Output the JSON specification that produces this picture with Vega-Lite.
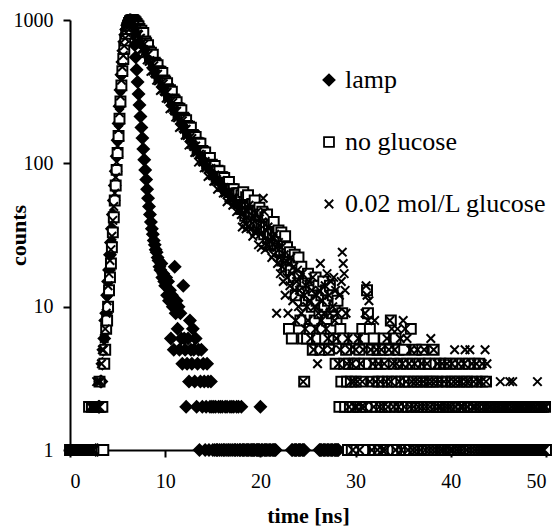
{
"$schema":"https://vega.github.io/schema/vega-lite/v6.json",
"width":476,"height":430,
"autosize":"none",
"padding":{"left":70,"top":20,"right":14,"bottom":82},
"background":"white",
"config":{"font":"Liberation Serif, Times New Roman, Times, serif","view":{"stroke":null},
"axis":{"domainColor":"black","domainWidth":2,"tickColor":"black","tickWidth":2,"tickSize":7,"labelColor":"black","labelFont":"Liberation Serif, Times New Roman, Times, serif","labelFontSize":20,"titleFont":"Liberation Serif, Times New Roman, Times, serif","titleFontSize":22,"titleFontWeight":"bold","titleColor":"black","grid":false},
"legend":{"labelFont":"Liberation Serif, Times New Roman, Times, serif"}},
"data":{"values":[
{"t":0.0,"a":0,"b":1,"c":1},{"t":0.1,"a":0,"b":0,"c":1},{"t":0.2,"a":0,"b":1,"c":0},{"t":0.3,"a":0,"b":1,"c":1},{"t":0.4,"a":0,"b":0,"c":1},
{"t":0.5,"a":0,"b":1,"c":1},{"t":0.6,"a":0,"b":1,"c":0},{"t":0.7,"a":0,"b":0,"c":1},{"t":0.8,"a":0,"b":1,"c":1},{"t":0.9,"a":0,"b":1,"c":0},
{"t":1.0,"a":0,"b":0,"c":1},{"t":1.1,"a":0,"b":1,"c":1},{"t":1.2,"a":0,"b":1,"c":0},{"t":1.3,"a":0,"b":0,"c":1},{"t":1.4,"a":0,"b":1,"c":0},
{"t":1.5,"a":0,"b":1,"c":1},{"t":1.6,"a":0,"b":0,"c":1},{"t":1.7,"a":0,"b":1,"c":0},{"t":1.8,"a":0,"b":1,"c":1},{"t":1.9,"a":0,"b":0,"c":1},
{"t":2.0,"a":0,"b":2,"c":1},{"t":2.1,"a":0,"b":1,"c":1},{"t":2.2,"a":0,"b":1,"c":2},{"t":2.3,"a":0,"b":2,"c":1},{"t":2.4,"a":0,"b":1,"c":2},
{"t":2.5,"a":0,"b":1,"c":1},{"t":2.6,"a":0,"b":2,"c":2},{"t":2.7,"a":1,"b":1,"c":2},{"t":2.8,"a":0,"b":2,"c":3},{"t":2.9,"a":1,"b":1,"c":2},
{"t":3.0,"a":2,"b":2,"c":3},{"t":3.1,"a":2,"b":3,"c":2},{"t":3.2,"a":3,"b":2,"c":3},{"t":3.3,"a":3,"b":1,"c":4},{"t":3.4,"a":4,"b":2,"c":5},
{"t":3.5,"a":5,"b":1,"c":5},{"t":3.6,"a":6,"b":4,"c":6},{"t":3.7,"a":8,"b":5,"c":7},{"t":3.8,"a":9,"b":7,"c":9},{"t":3.9,"a":12,"b":8,"c":11},
{"t":4.0,"a":15,"b":10,"c":14},{"t":4.1,"a":18,"b":13,"c":17},{"t":4.2,"a":23,"b":16,"c":21},{"t":4.3,"a":28,"b":20,"c":25},{"t":4.4,"a":35,"b":26,"c":31},
{"t":4.5,"a":44,"b":33,"c":40},{"t":4.6,"a":55,"b":42,"c":50},{"t":4.7,"a":70,"b":55,"c":62},{"t":4.8,"a":88,"b":70,"c":80},{"t":4.9,"a":112,"b":90,"c":102},
{"t":5.0,"a":145,"b":118,"c":132},{"t":5.1,"a":190,"b":155,"c":172},{"t":5.2,"a":250,"b":205,"c":225},{"t":5.3,"a":325,"b":270,"c":295},{"t":5.4,"a":415,"b":350,"c":380},
{"t":5.5,"a":510,"b":440,"c":470},{"t":5.6,"a":610,"b":535,"c":565},{"t":5.7,"a":705,"b":630,"c":660},{"t":5.8,"a":790,"b":720,"c":745},{"t":5.9,"a":860,"b":800,"c":820},
{"t":6.0,"a":920,"b":865,"c":880},{"t":6.1,"a":962,"b":915,"c":930},{"t":6.2,"a":988,"b":955,"c":965},{"t":6.3,"a":1000,"b":982,"c":990},{"t":6.4,"a":995,"b":993,"c":1000},
{"t":6.5,"a":960,"b":996,"c":993},{"t":6.6,"a":890,"b":1000,"c":975},{"t":6.7,"a":790,"b":990,"c":950},{"t":6.8,"a":670,"b":975,"c":905},{"t":6.9,"a":550,"b":960,"c":880},
{"t":7.0,"a":450,"b":940,"c":845},{"t":7.1,"a":370,"b":915,"c":800},{"t":7.2,"a":305,"b":900,"c":790},{"t":7.3,"a":255,"b":865,"c":739},{"t":7.4,"a":212,"b":786,"c":745},
{"t":7.5,"a":178,"b":842,"c":624},{"t":7.6,"a":150,"b":765,"c":698},{"t":7.7,"a":126,"b":812,"c":624},{"t":7.8,"a":106,"b":693,"c":679},{"t":7.9,"a":90,"b":709,"c":601},
{"t":8.0,"a":77,"b":689,"c":585},{"t":8.1,"a":66,"b":627,"c":527},{"t":8.2,"a":57,"b":666,"c":575},{"t":8.3,"a":50,"b":603,"c":515},{"t":8.4,"a":44,"b":548,"c":520},
{"t":8.5,"a":39,"b":591,"c":438},{"t":8.6,"a":35,"b":541,"c":493},{"t":8.7,"a":32,"b":573,"c":440},{"t":8.8,"a":29,"b":490,"c":480},{"t":8.9,"a":27,"b":504,"c":427},
{"t":9.0,"a":25,"b":493,"c":419},{"t":9.1,"a":24,"b":452,"c":380},{"t":9.2,"a":22,"b":484,"c":418},{"t":9.3,"a":21,"b":440,"c":376},{"t":9.4,"a":19,"b":403,"c":382},
{"t":9.5,"a":18,"b":435,"c":322},{"t":9.6,"a":20,"b":400,"c":365},{"t":9.7,"a":16,"b":427,"c":328},{"t":9.8,"a":17,"b":366,"c":359},{"t":9.9,"a":15,"b":378,"c":320},
{"t":10.0,"a":14,"b":371,"c":315},{"t":10.1,"a":16,"b":339,"c":285},{"t":10.2,"a":12,"b":362,"c":313},{"t":10.3,"a":15,"b":329,"c":281},{"t":10.4,"a":11,"b":300,"c":284},
{"t":10.5,"a":13,"b":324,"c":240},{"t":10.6,"a":6,"b":297,"c":271},{"t":10.7,"a":12,"b":316,"c":243},{"t":10.8,"a":10,"b":271,"c":266},{"t":10.9,"a":5,"b":279,"c":237},
{"t":11.0,"a":19,"b":273,"c":232},{"t":11.1,"a":9,"b":250,"c":210},{"t":11.2,"a":11,"b":267,"c":231},{"t":11.3,"a":7,"b":243,"c":208},{"t":11.4,"a":10,"b":222,"c":211},
{"t":11.5,"a":5,"b":240,"c":178},{"t":11.6,"a":9,"b":220,"c":201},{"t":11.7,"a":6,"b":235,"c":181},{"t":11.8,"a":4,"b":202,"c":198},{"t":11.9,"a":14,"b":208,"c":176},
{"t":12.0,"a":6,"b":204,"c":173},{"t":12.1,"a":5,"b":187,"c":157},{"t":12.2,"a":2,"b":200,"c":173},{"t":12.3,"a":4,"b":182,"c":156},{"t":12.4,"a":6,"b":167,"c":158},
{"t":12.5,"a":3,"b":180,"c":134},{"t":12.6,"a":8,"b":166,"c":152},{"t":12.7,"a":5,"b":177,"c":136},{"t":12.8,"a":4,"b":152,"c":149},{"t":12.9,"a":7,"b":158,"c":134},
{"t":13.0,"a":5,"b":155,"c":131},{"t":13.1,"a":3,"b":142,"c":119},{"t":13.2,"a":6,"b":153,"c":132},{"t":13.3,"a":2,"b":139,"c":119},{"t":13.4,"a":4,"b":127,"c":121},
{"t":13.5,"a":5,"b":138,"c":102},{"t":13.6,"a":1,"b":128,"c":116},{"t":13.7,"a":3,"b":137,"c":105},{"t":13.8,"a":5,"b":118,"c":115},{"t":13.9,"a":2,"b":122,"c":103},
{"t":14.0,"a":4,"b":120,"c":102},{"t":14.1,"a":3,"b":111,"c":93},{"t":14.2,"a":1,"b":119,"c":103},{"t":14.3,"a":2,"b":109,"c":93},{"t":14.4,"a":4,"b":100,"c":95},
{"t":14.5,"a":3,"b":109,"c":81},{"t":14.6,"a":1,"b":101,"c":92},{"t":14.7,"a":2,"b":109,"c":83},{"t":14.8,"a":3,"b":94,"c":92},{"t":14.9,"a":2,"b":98,"c":83},
{"t":15.0,"a":1,"b":96,"c":82},{"t":15.1,"a":2,"b":89,"c":75},{"t":15.2,"a":1,"b":96,"c":83},{"t":15.3,"a":2,"b":88,"c":75},{"t":15.4,"a":1,"b":81,"c":77},
{"t":15.5,"a":1,"b":89,"c":66},{"t":15.6,"a":2,"b":83,"c":75},{"t":15.7,"a":1,"b":88,"c":68},{"t":15.8,"a":2,"b":77,"c":76},{"t":15.9,"a":1,"b":80,"c":68},
{"t":16.0,"a":2,"b":80,"c":68},{"t":16.1,"a":1,"b":74,"c":62},{"t":16.2,"a":1,"b":79,"c":68},{"t":16.3,"a":2,"b":73,"c":62},{"t":16.4,"a":1,"b":67,"c":63},
{"t":16.5,"a":2,"b":73,"c":54},{"t":16.6,"a":1,"b":68,"c":62},{"t":16.7,"a":1,"b":74,"c":57},{"t":16.8,"a":2,"b":63,"c":62},{"t":16.9,"a":1,"b":66,"c":56},
{"t":17.0,"a":2,"b":66,"c":56},{"t":17.1,"a":1,"b":61,"c":51},{"t":17.2,"a":2,"b":66,"c":57},{"t":17.3,"a":1,"b":61,"c":52},{"t":17.4,"a":1,"b":56,"c":53},
{"t":17.5,"a":2,"b":62,"c":46},{"t":17.6,"a":1,"b":57,"c":52},{"t":17.7,"a":2,"b":62,"c":47},{"t":17.8,"a":1,"b":53,"c":52},{"t":17.9,"a":1,"b":56,"c":47},
{"t":18.0,"a":2,"b":60,"c":44},{"t":18.1,"a":1,"b":48,"c":36},{"t":18.2,"a":1,"b":63,"c":53},{"t":18.3,"a":1,"b":50,"c":40},{"t":18.4,"a":0,"b":43,"c":47},
{"t":18.5,"a":1,"b":58,"c":35},{"t":18.6,"a":1,"b":49,"c":47},{"t":18.7,"a":1,"b":60,"c":36},{"t":18.8,"a":1,"b":42,"c":51},{"t":18.9,"a":0,"b":50,"c":40},
{"t":19.0,"a":1,"b":44,"c":35},{"t":19.1,"a":1,"b":38,"c":41},{"t":19.2,"a":1,"b":52,"c":31},{"t":19.3,"a":1,"b":44,"c":42},{"t":19.4,"a":1,"b":55,"c":33},
{"t":19.5,"a":0,"b":38,"c":45},{"t":19.6,"a":1,"b":44,"c":35},{"t":19.7,"a":1,"b":46,"c":34},{"t":19.8,"a":1,"b":37,"c":27},{"t":19.9,"a":1,"b":49,"c":41},
{"t":20.0,"a":2,"b":44,"c":32},{"t":20.1,"a":1,"b":35,"c":26},{"t":20.2,"a":1,"b":46,"c":39},{"t":20.3,"a":0,"b":36,"c":57},{"t":20.4,"a":1,"b":32,"c":46},
{"t":20.5,"a":1,"b":42,"c":25},{"t":20.6,"a":1,"b":36,"c":34},{"t":20.7,"a":1,"b":44,"c":27},{"t":20.8,"a":0,"b":30,"c":36},{"t":20.9,"a":1,"b":36,"c":29},
{"t":21.0,"a":1,"b":32,"c":26},{"t":21.1,"a":1,"b":27,"c":29},{"t":21.2,"a":0,"b":37,"c":22},{"t":21.3,"a":1,"b":32,"c":30},{"t":21.4,"a":1,"b":39,"c":23},
{"t":21.5,"a":1,"b":27,"c":32},{"t":21.6,"a":1,"b":32,"c":26},{"t":21.7,"a":0,"b":32,"c":9},{"t":21.8,"a":0,"b":27,"c":20},{"t":21.9,"a":0,"b":34,"c":28},
{"t":22.0,"a":0,"b":30,"c":22},{"t":22.1,"a":0,"b":24,"c":17},{"t":22.2,"a":0,"b":33,"c":26},{"t":22.3,"a":0,"b":21,"c":19},{"t":22.4,"a":0,"b":28,"c":15},
{"t":22.5,"a":0,"b":25,"c":23},{"t":22.6,"a":0,"b":31,"c":12},{"t":22.7,"a":0,"b":19,"c":21},{"t":22.8,"a":0,"b":26,"c":16},{"t":22.9,"a":0,"b":22,"c":9},
{"t":23.0,"a":0,"b":7,"c":20},{"t":23.1,"a":0,"b":24,"c":14},{"t":23.2,"a":0,"b":18,"c":22},{"t":23.3,"a":1,"b":6,"c":17},{"t":23.4,"a":1,"b":21,"c":11},
{"t":23.5,"a":0,"b":16,"c":19},{"t":23.6,"a":1,"b":23,"c":13},{"t":23.7,"a":1,"b":12,"c":8},{"t":23.8,"a":1,"b":20,"c":15},{"t":23.9,"a":0,"b":14,"c":18},
{"t":24.0,"a":1,"b":22,"c":10},{"t":24.1,"a":1,"b":17,"c":13},{"t":24.2,"a":1,"b":8,"c":16},{"t":24.3,"a":0,"b":19,"c":9},{"t":24.4,"a":1,"b":13,"c":17},
{"t":24.5,"a":1,"b":6,"c":3},{"t":24.6,"a":1,"b":3,"c":12},{"t":24.7,"a":0,"b":15,"c":7},{"t":24.8,"a":0,"b":11,"c":14},{"t":24.9,"a":0,"b":6,"c":10},
{"t":25.0,"a":0,"b":17,"c":8},{"t":25.1,"a":0,"b":12,"c":15},{"t":25.2,"a":0,"b":7,"c":11},{"t":25.3,"a":0,"b":14,"c":6},{"t":25.4,"a":0,"b":10,"c":13},
{"t":25.5,"a":0,"b":5,"c":16},{"t":25.6,"a":0,"b":13,"c":5},{"t":25.7,"a":0,"b":8,"c":10},{"t":25.8,"a":0,"b":16,"c":7},{"t":25.9,"a":0,"b":11,"c":12},
{"t":26.0,"a":0,"b":6,"c":4},{"t":26.1,"a":0,"b":14,"c":9},{"t":26.2,"a":1,"b":9,"c":13},{"t":26.3,"a":1,"b":5,"c":20},{"t":26.4,"a":1,"b":12,"c":8},
{"t":26.5,"a":0,"b":7,"c":11},{"t":26.6,"a":1,"b":15,"c":5},{"t":26.7,"a":1,"b":10,"c":9},{"t":26.8,"a":1,"b":6,"c":14},{"t":26.9,"a":0,"b":13,"c":7},
{"t":27.0,"a":1,"b":8,"c":17},{"t":27.1,"a":1,"b":11,"c":6},{"t":27.2,"a":1,"b":5,"c":12},{"t":27.3,"a":0,"b":14,"c":9},{"t":27.4,"a":1,"b":7,"c":15},
{"t":27.5,"a":1,"b":9,"c":5},{"t":27.6,"a":1,"b":12,"c":10},{"t":27.7,"a":0,"b":6,"c":16},{"t":27.8,"a":1,"b":10,"c":8},{"t":27.9,"a":1,"b":4,"c":13},
{"t":28.0,"a":1,"b":8,"c":6},{"t":28.1,"a":1,"b":11,"c":9},{"t":28.2,"a":1,"b":6,"c":4},{"t":28.3,"a":0,"b":2,"c":12},{"t":28.4,"a":0,"b":7,"c":5},
{"t":28.5,"a":0,"b":3,"c":15},{"t":28.6,"a":0,"b":9,"c":24},{"t":28.7,"a":0,"b":6,"c":20},{"t":28.8,"a":0,"b":4,"c":17},{"t":28.9,"a":0,"b":2,"c":13},
{"t":29.0,"a":0,"b":5,"c":9},{"t":29.1,"a":0,"b":3,"c":4},{"t":29.2,"a":0,"b":1,"c":6},{"t":29.3,"a":0,"b":4,"c":2},{"t":29.4,"a":0,"b":2,"c":5},
{"t":29.5,"a":0,"b":3,"c":3},{"t":29.6,"a":0,"b":1,"c":4},{"t":29.7,"a":0,"b":2,"c":1},{"t":29.8,"a":0,"b":6,"c":3},{"t":29.9,"a":0,"b":4,"c":2},
{"t":30.0,"a":0,"b":3,"c":5},{"t":30.1,"a":0,"b":1,"c":2},{"t":30.2,"a":0,"b":4,"c":3},{"t":30.3,"a":0,"b":2,"c":6},{"t":30.4,"a":0,"b":5,"c":1},
{"t":30.5,"a":0,"b":2,"c":4},{"t":30.6,"a":0,"b":3,"c":2},{"t":30.7,"a":0,"b":7,"c":3},{"t":30.8,"a":0,"b":1,"c":5},{"t":30.9,"a":0,"b":4,"c":2},
{"t":31.0,"a":0,"b":6,"c":9},{"t":31.1,"a":0,"b":2,"c":14},{"t":31.2,"a":0,"b":13,"c":12},{"t":31.3,"a":0,"b":9,"c":8},{"t":31.4,"a":0,"b":4,"c":11},
{"t":31.5,"a":0,"b":7,"c":3},{"t":31.6,"a":0,"b":2,"c":5},{"t":31.7,"a":0,"b":5,"c":1},{"t":31.8,"a":0,"b":3,"c":4},{"t":31.9,"a":0,"b":6,"c":2},
{"t":32.0,"a":0,"b":1,"c":8},{"t":32.1,"a":0,"b":4,"c":3},{"t":32.2,"a":0,"b":2,"c":5},{"t":32.3,"a":0,"b":5,"c":1},{"t":32.4,"a":0,"b":3,"c":4},
{"t":32.5,"a":0,"b":1,"c":2},{"t":32.6,"a":0,"b":4,"c":3},{"t":32.7,"a":0,"b":2,"c":5},{"t":32.8,"a":0,"b":3,"c":1},{"t":32.9,"a":0,"b":5,"c":2},
{"t":33.0,"a":0,"b":6,"c":4},{"t":33.1,"a":0,"b":2,"c":1},{"t":33.2,"a":0,"b":4,"c":3},{"t":33.3,"a":0,"b":1,"c":6},{"t":33.4,"a":0,"b":3,"c":2},
{"t":33.5,"a":0,"b":2,"c":5},{"t":33.6,"a":0,"b":5,"c":8},{"t":33.7,"a":0,"b":8,"c":3},{"t":33.8,"a":0,"b":3,"c":7},{"t":33.9,"a":0,"b":1,"c":4},
{"t":34.0,"a":0,"b":4,"c":2},{"t":34.1,"a":0,"b":2,"c":5},{"t":34.2,"a":0,"b":6,"c":1},{"t":34.3,"a":0,"b":3,"c":4},{"t":34.4,"a":0,"b":1,"c":7},
{"t":34.5,"a":0,"b":5,"c":2},{"t":34.6,"a":0,"b":2,"c":3},{"t":34.7,"a":0,"b":4,"c":6},{"t":34.8,"a":0,"b":3,"c":1},{"t":34.9,"a":0,"b":1,"c":4},
{"t":35.0,"a":0,"b":2,"c":8},{"t":35.1,"a":0,"b":5,"c":2},{"t":35.2,"a":0,"b":3,"c":7},{"t":35.3,"a":0,"b":1,"c":3},{"t":35.4,"a":0,"b":4,"c":6},
{"t":35.5,"a":0,"b":2,"c":1},{"t":35.6,"a":0,"b":3,"c":4},{"t":35.7,"a":0,"b":1,"c":2},{"t":35.8,"a":0,"b":7,"c":5},{"t":35.9,"a":0,"b":2,"c":3},
{"t":36.0,"a":0,"b":4,"c":1},{"t":36.1,"a":0,"b":3,"c":2},{"t":36.2,"a":0,"b":1,"c":4},{"t":36.3,"a":0,"b":5,"c":3},{"t":36.4,"a":0,"b":2,"c":1},
{"t":36.5,"a":0,"b":3,"c":5},{"t":36.6,"a":0,"b":1,"c":2},{"t":36.7,"a":0,"b":4,"c":3},{"t":36.8,"a":0,"b":2,"c":1},{"t":36.9,"a":0,"b":3,"c":4},
{"t":37.0,"a":0,"b":5,"c":2},{"t":37.1,"a":0,"b":1,"c":3},{"t":37.2,"a":0,"b":2,"c":5},{"t":37.3,"a":0,"b":4,"c":1},{"t":37.4,"a":0,"b":3,"c":2},
{"t":37.5,"a":0,"b":1,"c":4},{"t":37.6,"a":0,"b":2,"c":3},{"t":37.7,"a":0,"b":4,"c":1},{"t":37.8,"a":0,"b":3,"c":2},{"t":37.9,"a":0,"b":1,"c":6},
{"t":38.0,"a":0,"b":2,"c":3},{"t":38.1,"a":0,"b":3,"c":1},{"t":38.2,"a":0,"b":5,"c":5},{"t":38.3,"a":0,"b":1,"c":2},{"t":38.4,"a":0,"b":4,"c":3},
{"t":38.5,"a":0,"b":2,"c":1},{"t":38.6,"a":0,"b":3,"c":4},{"t":38.7,"a":0,"b":1,"c":2},{"t":38.8,"a":0,"b":2,"c":3},{"t":38.9,"a":0,"b":4,"c":1},
{"t":39.0,"a":0,"b":1,"c":2},{"t":39.1,"a":0,"b":3,"c":4},{"t":39.2,"a":0,"b":2,"c":1},{"t":39.3,"a":0,"b":1,"c":3},{"t":39.4,"a":0,"b":4,"c":2},
{"t":39.5,"a":0,"b":2,"c":1},{"t":39.6,"a":0,"b":3,"c":4},{"t":39.7,"a":0,"b":1,"c":2},{"t":39.8,"a":0,"b":2,"c":3},{"t":39.9,"a":0,"b":4,"c":1},
{"t":40.0,"a":0,"b":1,"c":2},{"t":40.1,"a":0,"b":3,"c":4},{"t":40.2,"a":0,"b":2,"c":1},{"t":40.3,"a":0,"b":1,"c":3},{"t":40.4,"a":0,"b":3,"c":5},
{"t":40.5,"a":0,"b":2,"c":2},{"t":40.6,"a":0,"b":4,"c":1},{"t":40.7,"a":0,"b":1,"c":3},{"t":40.8,"a":0,"b":2,"c":4},{"t":40.9,"a":0,"b":3,"c":1},
{"t":41.0,"a":0,"b":1,"c":2},{"t":41.1,"a":0,"b":2,"c":3},{"t":41.2,"a":0,"b":4,"c":1},{"t":41.3,"a":0,"b":1,"c":2},{"t":41.4,"a":0,"b":3,"c":4},
{"t":41.5,"a":0,"b":2,"c":5},{"t":41.6,"a":0,"b":1,"c":3},{"t":41.7,"a":0,"b":3,"c":1},{"t":41.8,"a":0,"b":2,"c":2},{"t":41.9,"a":0,"b":4,"c":3},
{"t":42.0,"a":0,"b":1,"c":5},{"t":42.1,"a":0,"b":2,"c":1},{"t":42.2,"a":0,"b":3,"c":4},{"t":42.3,"a":0,"b":1,"c":2},{"t":42.4,"a":0,"b":2,"c":3},
{"t":42.5,"a":0,"b":4,"c":1},{"t":42.6,"a":0,"b":1,"c":2},{"t":42.7,"a":0,"b":3,"c":4},{"t":42.8,"a":0,"b":2,"c":1},{"t":42.9,"a":0,"b":1,"c":3},
{"t":43.0,"a":0,"b":4,"c":2},{"t":43.1,"a":0,"b":2,"c":1},{"t":43.2,"a":0,"b":1,"c":3},{"t":43.3,"a":0,"b":3,"c":4},{"t":43.4,"a":0,"b":2,"c":1},
{"t":43.5,"a":0,"b":1,"c":2},{"t":43.6,"a":0,"b":2,"c":5},{"t":43.7,"a":0,"b":3,"c":3},{"t":43.8,"a":0,"b":1,"c":4},{"t":43.9,"a":0,"b":2,"c":1},
{"t":44.0,"a":0,"b":1,"c":2},{"t":44.1,"a":0,"b":2,"c":1},{"t":44.2,"a":0,"b":1,"c":2},{"t":44.3,"a":0,"b":2,"c":1},{"t":44.4,"a":0,"b":1,"c":1},
{"t":44.5,"a":0,"b":2,"c":2},{"t":44.6,"a":0,"b":1,"c":1},{"t":44.7,"a":0,"b":2,"c":1},{"t":44.8,"a":0,"b":1,"c":2},{"t":44.9,"a":0,"b":1,"c":1},
{"t":45.0,"a":0,"b":2,"c":1},{"t":45.1,"a":0,"b":1,"c":2},{"t":45.2,"a":0,"b":2,"c":3},{"t":45.3,"a":0,"b":1,"c":1},{"t":45.4,"a":0,"b":2,"c":2},
{"t":45.5,"a":0,"b":1,"c":1},{"t":45.6,"a":0,"b":2,"c":2},{"t":45.7,"a":0,"b":1,"c":1},{"t":45.8,"a":0,"b":1,"c":2},{"t":45.9,"a":0,"b":2,"c":1},
{"t":46.0,"a":0,"b":1,"c":2},{"t":46.1,"a":0,"b":2,"c":1},{"t":46.2,"a":0,"b":1,"c":3},{"t":46.3,"a":0,"b":2,"c":1},{"t":46.4,"a":0,"b":1,"c":2},
{"t":46.5,"a":0,"b":2,"c":3},{"t":46.6,"a":0,"b":1,"c":1},{"t":46.7,"a":0,"b":1,"c":2},{"t":46.8,"a":0,"b":2,"c":1},{"t":46.9,"a":0,"b":1,"c":1},
{"t":47.0,"a":0,"b":2,"c":2},{"t":47.1,"a":0,"b":1,"c":1},{"t":47.2,"a":0,"b":2,"c":2},{"t":47.3,"a":0,"b":1,"c":1},{"t":47.4,"a":0,"b":1,"c":2},
{"t":47.5,"a":0,"b":2,"c":1},{"t":47.6,"a":0,"b":1,"c":2},{"t":47.7,"a":0,"b":2,"c":1},{"t":47.8,"a":0,"b":1,"c":1},{"t":47.9,"a":0,"b":2,"c":2},
{"t":48.0,"a":0,"b":1,"c":1},{"t":48.1,"a":0,"b":2,"c":2},{"t":48.2,"a":0,"b":1,"c":1},{"t":48.3,"a":0,"b":1,"c":2},{"t":48.4,"a":0,"b":2,"c":1},
{"t":48.5,"a":0,"b":1,"c":2},{"t":48.6,"a":0,"b":2,"c":1},{"t":48.7,"a":0,"b":1,"c":1},{"t":48.8,"a":0,"b":2,"c":2},{"t":48.9,"a":0,"b":1,"c":1},
{"t":49.0,"a":0,"b":2,"c":1},{"t":49.1,"a":0,"b":1,"c":3},{"t":49.2,"a":0,"b":1,"c":1},{"t":49.3,"a":0,"b":2,"c":2},{"t":49.4,"a":0,"b":1,"c":1},
{"t":49.5,"a":0,"b":2,"c":2},{"t":49.6,"a":0,"b":1,"c":1},{"t":49.7,"a":0,"b":2,"c":2},{"t":49.8,"a":0,"b":1,"c":1},{"t":49.9,"a":0,"b":2,"c":2},
{"t":50.0,"a":0,"b":1,"c":2}
]},
"transform":[{"fold":["a","b","c"],"as":["s","v"]},{"filter":"datum.v > 0"}],
"mark":{"type":"point","stroke":"black","strokeWidth":2,"opacity":1},
"encoding":{
"x":{"field":"t","type":"quantitative","scale":{"domain":[0,50],"nice":false},
"axis":{"values":[0,10,20,30,40,50],"title":"time [ns]","labelPadding":14,"titleY":65,"titleBaseline":"middle"}},
"y":{"field":"v","type":"quantitative","scale":{"type":"log","domain":[1,1000],"nice":false},
"axis":{"values":[1,10,100,1000],"format":"d","title":"counts","labelPadding":10,"titleX":-52,"titleY":215,"titleBaseline":"middle","titleAngle":-90}},
"shape":{"field":"s","type":"nominal","scale":{"domain":["a","b","c"],"range":["diamond","square","M-1,-1L1,1M-1,1L1,-1"]},
"legend":{"orient":"none","legendX":246,"legendY":47,"title":null,"labelExpr":"datum.value=='a'?'lamp':datum.value=='b'?'no glucose':'0.02 mol/L glucose'","labelFontSize":26,"labelColor":"black","labelLimit":0,"rowPadding":36,"labelOffset":3,"symbolStrokeColor":"black","symbolStrokeWidth":1.8,"symbolOpacity":1,
"encode":{"symbols":{"update":{"stroke":{"value":"black"},"strokeWidth":{"value":1.8},"opacity":{"value":1},"size":{"value":55}}}}}},
"fill":{"field":"s","type":"nominal","scale":{"domain":["a","b","c"],"range":["black","white","white"]},
"legend":{"orient":"none","legendX":246,"legendY":47,"title":null,"labelExpr":"datum.value=='a'?'lamp':datum.value=='b'?'no glucose':'0.02 mol/L glucose'","labelFontSize":26,"labelColor":"black","labelLimit":0,"rowPadding":36,"labelOffset":3,"symbolStrokeColor":"black","symbolStrokeWidth":1.8,"symbolOpacity":1,
"encode":{"symbols":{"update":{"stroke":{"value":"black"},"strokeWidth":{"value":1.8},"opacity":{"value":1},"size":{"value":55}}}}}},
"size":{"field":"s","type":"nominal","scale":{"domain":["a","b","c"],"range":[125,72,115]},
"legend":{"orient":"none","legendX":246,"legendY":47,"title":null,"labelExpr":"datum.value=='a'?'lamp':datum.value=='b'?'no glucose':'0.02 mol/L glucose'","labelFontSize":26,"labelColor":"black","labelLimit":0,"rowPadding":36,"labelOffset":3,"symbolStrokeColor":"black","symbolStrokeWidth":1.8,"symbolOpacity":1,
"encode":{"symbols":{"update":{"stroke":{"value":"black"},"strokeWidth":{"value":1.8},"opacity":{"value":1},"size":{"value":55}}}}}},
"order":{"field":"s","type":"ordinal"}
}
}
